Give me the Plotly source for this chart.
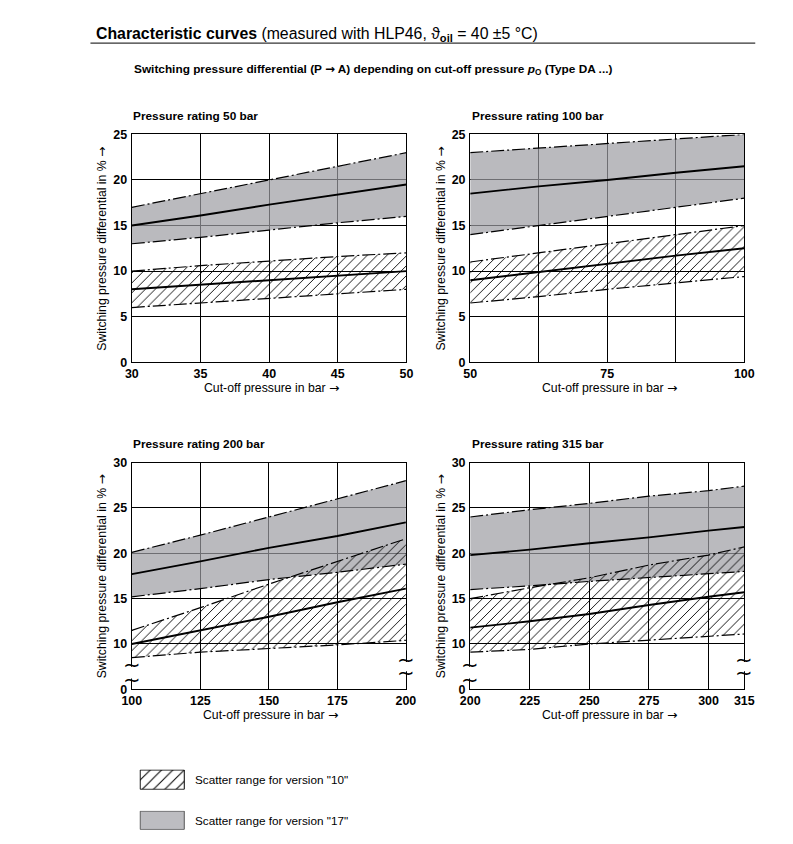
import plotly.graph_objects as go

W, H = 793, 844
FONT = "Liberation Sans, Arial, sans-serif"
TICKFONT = "Liberation Sans Narrow, Arial Narrow, Liberation Sans, sans-serif"

# ---------------- data ----------------
P50_X = [30, 35, 40, 45, 50]
P50_V17_LO = [13.0, 13.7, 14.5, 15.3, 16.0]
P50_V17_MID = [15.0, 16.1, 17.3, 18.4, 19.5]
P50_V17_HI = [17.0, 18.5, 20.0, 21.5, 23.0]
P50_V10_LO = [6.0, 6.5, 7.0, 7.5, 8.0]
P50_V10_MID = [8.0, 8.5, 9.0, 9.5, 10.0]
P50_V10_HI = [10.0, 10.6, 11.1, 11.6, 12.0]

P100_X = [50, 62.5, 75, 87.5, 100]
P100_V17_LO = [14.0, 15.0, 16.0, 17.0, 18.0]
P100_V17_MID = [18.5, 19.3, 20.0, 20.8, 21.5]
P100_V17_HI = [23.0, 23.5, 24.0, 24.5, 25.0]
P100_V10_LO = [6.5, 7.2, 8.0, 8.7, 9.4]
P100_V10_MID = [9.0, 9.9, 10.8, 11.7, 12.5]
P100_V10_HI = [11.0, 12.0, 13.0, 14.0, 15.0]

P200_X = [100, 125, 150, 175, 200]
P200_V17_LO = [15.2, 16.1, 17.1, 17.9, 18.8]
P200_V17_MID = [17.7, 19.1, 20.6, 21.9, 23.4]
P200_V17_HI = [20.1, 22.0, 24.0, 26.0, 28.0]
P200_V10_LO = [8.5, 9.1, 9.5, 9.9, 10.4]
P200_V10_MID = [10.0, 11.5, 13.0, 14.6, 16.1]
P200_V10_HI = [11.5, 14.0, 16.6, 19.1, 21.6]

P315_X = [200, 225, 250, 275, 300, 315]
P315_V17_LO = [16.0, 16.4, 16.9, 17.3, 17.7, 18.0]
P315_V17_MID = [19.8, 20.4, 21.1, 21.75, 22.5, 22.9]
P315_V17_HI = [24.0, 24.8, 25.5, 26.3, 26.9, 27.4]
P315_V10_LO = [9.1, 9.4, 10.0, 10.4, 10.8, 11.1]
P315_V10_MID = [11.8, 12.5, 13.3, 14.3, 15.2, 15.7]
P315_V10_HI = [15.0, 16.2, 17.3, 18.7, 19.8, 20.7]

TITLES = ["Pressure rating 50 bar", "Pressure rating 100 bar",
          "Pressure rating 200 bar", "Pressure rating 315 bar"]

X50_TICKS = [30, 35, 40, 45, 50]
X50_LABELS = ["30", "35", "40", "45", "50"]
X100_TICKS = [50, 62.5, 75, 87.5, 100]
X100_LABELS = ["50", "", "75", "", "100"]
X200_TICKS = [100, 125, 150, 175, 200]
X200_LABELS = ["100", "125", "150", "175", "200"]
X315_TICKS = [200, 225, 250, 275, 300, 315]
X315_LABELS = ["200", "225", "250", "275", "300", "315"]

Y25_TICKS = [0, 5, 10, 15, 20, 25]
Y25_LABELS = ["0", "5", "10", "15", "20", "25"]
Y30_TICKS = [5, 10, 15, 20, 25, 30]          # axis broken: the bottom tick is "0"
Y30_LABELS = ["0", "10", "15", "20", "25", "30"]

ARROW = '<span style="font-family:DejaVu Sans">\u2192</span>'
Y_TITLE = "Switching pressure differential in % " + ARROW
X_TITLE = "Cut-off pressure in bar " + ARROW
LEG_LABELS = ['Scatter range for version "10"', 'Scatter range for version "17"']

# ---------------- geometry: target pixel positions -> figure coords ----------------
# the viewer shows the page slightly scaled and offset; compensate
SX, OX = 0.978, 15.3
SY, OY = 0.980, 15.0
FS = 1 / 0.979  # font compensation


def fx(px):
    return (px - OX) / SX


def fy(py):
    return (py - OY) / SY


def dom_x(a, b):
    return [fx(a) / W, fx(b) / W]


def dom_y(top, bottom):
    return [1 - fy(bottom) / H, 1 - fy(top) / H]


def pap_x(px):
    return fx(px) / W


def pap_y(py):
    return 1 - fy(py) / H


panels = [
    dict(x=P50_X, v17=(P50_V17_LO, P50_V17_MID, P50_V17_HI), v10=(P50_V10_LO, P50_V10_MID, P50_V10_HI),
         xt=X50_TICKS, xl=X50_LABELS, yt=Y25_TICKS, yl=Y25_LABELS, xr=[30, 50], yr=[0, 25],
         px=(129.5, 405), py=(134, 361), ty=116, xty=387, ytx=100, brk=False),
    dict(x=P100_X, v17=(P100_V17_LO, P100_V17_MID, P100_V17_HI), v10=(P100_V10_LO, P100_V10_MID, P100_V10_HI),
         xt=X100_TICKS, xl=X100_LABELS, yt=Y25_TICKS, yl=Y25_LABELS, xr=[50, 100], yr=[0, 25],
         px=(469, 744), py=(134, 361), ty=116, xty=387, ytx=440, brk=False),
    dict(x=P200_X, v17=(P200_V17_LO, P200_V17_MID, P200_V17_HI), v10=(P200_V10_LO, P200_V10_MID, P200_V10_HI),
         xt=X200_TICKS, xl=X200_LABELS, yt=Y30_TICKS, yl=Y30_LABELS, xr=[100, 200], yr=[5, 30],
         px=(129.5, 404.5), py=(461, 687), ty=443, xty=713, ytx=100, brk=True),
    dict(x=P315_X, v17=(P315_V17_LO, P315_V17_MID, P315_V17_HI), v10=(P315_V10_LO, P315_V10_MID, P315_V10_HI),
         xt=X315_TICKS, xl=X315_LABELS, yt=Y30_TICKS, yl=Y30_LABELS, xr=[200, 315], yr=[5, 30],
         px=(469, 744), py=(461, 687), ty=443, xty=713, ytx=440, brk=True),
]

GRAY = "rgba(156,156,163,0.7)"
DASHDOT = "13px,3px,2px,3px"
HATCH = dict(shape="/", fgcolor="black", bgcolor="rgba(0,0,0,0)", size=7, solidity=0.13, fillmode="replace")

fig = go.Figure()
annotations = []
shapes = []

for i, p in enumerate(panels, start=1):
    sfx = "" if i == 1 else str(i)
    xa, ya = "x" + sfx, "y" + sfx
    lo17, mid17, hi17 = p["v17"]
    lo10, mid10, hi10 = p["v10"]
    edge = dict(color="black", width=1.2, dash=DASHDOT)
    # version 17 (gray band)
    fig.add_trace(go.Scatter(x=p["x"], y=lo17, mode="lines", line=edge, xaxis=xa, yaxis=ya,
                             showlegend=False, hoverinfo="skip"))
    fig.add_trace(go.Scatter(x=p["x"], y=hi17, mode="lines", line=edge, fill="tonexty",
                             fillcolor=GRAY, xaxis=xa, yaxis=ya, showlegend=False, hoverinfo="skip"))
    fig.add_trace(go.Scatter(x=p["x"], y=mid17, mode="lines", line=dict(color="black", width=1.9),
                             xaxis=xa, yaxis=ya, showlegend=False, hoverinfo="skip"))
    # version 10 (hatched band)
    fig.add_trace(go.Scatter(x=p["x"], y=lo10, mode="lines", line=edge, xaxis=xa, yaxis=ya,
                             showlegend=False, hoverinfo="skip"))
    fig.add_trace(go.Scatter(x=p["x"], y=hi10, mode="lines", line=edge, fill="tonexty",
                             fillcolor="rgba(0,0,0,0)", fillpattern=HATCH,
                             xaxis=xa, yaxis=ya, showlegend=False, hoverinfo="skip"))
    fig.add_trace(go.Scatter(x=p["x"], y=mid10, mode="lines", line=dict(color="black", width=1.9),
                             xaxis=xa, yaxis=ya, showlegend=False, hoverinfo="skip"))

    axcommon = dict(showgrid=True, gridcolor="black", gridwidth=0.8, showline=True, mirror=True,
                    linecolor="black", linewidth=1.4, ticks="", zeroline=False, fixedrange=True,
                    tickfont=dict(family=TICKFONT, size=12.2 * FS, color="black"))
    fig.update_layout(**{
        "xaxis" + sfx: dict(axcommon, domain=dom_x(*p["px"]), range=p["xr"], tickmode="array",
                            tickvals=p["xt"], ticktext=["<b>%s</b>" % t for t in p["xl"]],
                            anchor=ya),
        "yaxis" + sfx: dict(axcommon, domain=dom_y(*p["py"]), range=p["yr"], tickmode="array",
                            tickvals=p["yt"], ticktext=["<b>%s</b>" % t for t in p["yl"]],
                            anchor=xa, ticklabelstandoff=1),
    })

    x0, x1 = p["px"]
    ytop, ybot = p["py"]
    # panel title
    annotations.append(dict(text="<b>%s</b>" % TITLES[i - 1], x=pap_x(x0 - 0.5), y=pap_y(p["ty"]),
                            xref="paper", yref="paper", xanchor="left", yanchor="middle",
                            showarrow=False, font=dict(family=FONT, size=11.6 * FS, color="black")))
    # y title
    annotations.append(dict(text=Y_TITLE, x=pap_x(p["ytx"]), y=pap_y((ytop + ybot) / 2),
                            xref="paper", yref="paper", xanchor="center", yanchor="middle",
                            textangle=-90, showarrow=False, font=dict(family=FONT, size=12 * FS, color="black")))
    # x title
    annotations.append(dict(text=X_TITLE, x=pap_x((x0 + x1) / 2 + 2), y=pap_y(p["xty"]),
                            xref="paper", yref="paper", xanchor="center", yanchor="middle",
                            showarrow=False, font=dict(family=FONT, size=12 * FS, color="black")))
    if p["brk"]:
        for side, ys in ((0, (7.7, 6.0)), (1, (8.2, 6.8))):
            shapes.append(dict(type="rect", xref=xa + " domain", yref=ya, x0=side - 0.012, x1=side + 0.012,
                               y0=ys[1] + 0.2, y1=ys[0] - 0.2, fillcolor="white", line=dict(width=0),
                               layer="above"))
            for yv in ys:
                annotations.append(dict(text="\u223c", xref=xa + " domain", yref=ya, x=side, y=yv,
                                        xanchor="center", yanchor="middle", showarrow=False,
                                        font=dict(family="DejaVu Sans", size=21, color="black")))

# ---------------- header ----------------
annotations.append(dict(
    text="<b>Characteristic curves</b> (measured with HLP46, \u03d1<sub><b>oil</b></sub> = 40 \u00b15 \u00b0C)",
    x=pap_x(92), y=pap_y(34), xref="paper", yref="paper", xanchor="left", yanchor="middle",
    showarrow=False, font=dict(family=FONT, size=15.5 * FS, color="black")))
shapes.append(dict(type="line", xref="paper", yref="paper", x0=pap_x(88), x1=pap_x(755),
                   y0=pap_y(43), y1=pap_y(43), line=dict(color="black", width=1)))
annotations.append(dict(
    text="<b>Switching pressure differential (P " + ARROW + " A) depending on cut-off pressure "
         "<i>p</i><sub>O</sub> (Type DA ...)</b>",
    x=pap_x(130), y=pap_y(69), xref="paper", yref="paper", xanchor="left", yanchor="middle",
    showarrow=False, font=dict(family=FONT, size=11.6 * FS, color="black")))

# ---------------- legend swatches ----------------
SQ_X = [0, 1, 1, 0, 0]
SQ_Y = [0, 0, 1, 1, 0]
leg_rows = [(767, 787), (808, 827)]
for k, (t, b) in enumerate(leg_rows):
    n = 5 + k
    xa, ya = "x%d" % n, "y%d" % n
    if k == 0:
        fig.add_trace(go.Scatter(x=SQ_X, y=SQ_Y, mode="lines", fill="toself", fillcolor="rgba(0,0,0,0)",
                                 fillpattern=dict(HATCH, size=8), line=dict(color="black", width=1),
                                 xaxis=xa, yaxis=ya, showlegend=False, hoverinfo="skip"))
    else:
        fig.add_trace(go.Scatter(x=SQ_X, y=SQ_Y, mode="lines", fill="toself", fillcolor="#bdbdc1",
                                 line=dict(color="#555", width=1),
                                 xaxis=xa, yaxis=ya, showlegend=False, hoverinfo="skip"))
    hid = dict(visible=False, range=[-0.02, 1.02], fixedrange=True)
    fig.update_layout(**{
        "xaxis%d" % n: dict(hid, domain=dom_x(137, 183), anchor=ya),
        "yaxis%d" % n: dict(hid, domain=dom_y(t, b), anchor=xa),
    })
    annotations.append(dict(text=LEG_LABELS[k], x=pap_x(191), y=pap_y((t + b) / 2), xref="paper", yref="paper",
                            xanchor="left", yanchor="middle", showarrow=False,
                            font=dict(family=FONT, size=11.5 * FS, color="black")))

fig.update_layout(width=W, height=H, margin=dict(l=0, r=0, t=0, b=0),
                  paper_bgcolor="white", plot_bgcolor="white",
                  font=dict(family=FONT, color="black"),
                  annotations=annotations, shapes=shapes, showlegend=False)

fig.write_html("out.html")
